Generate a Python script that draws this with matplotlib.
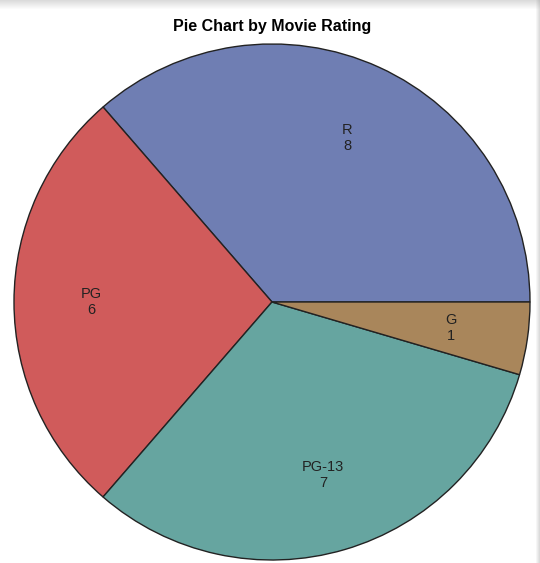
import matplotlib.pyplot as plt
from matplotlib.patches import Rectangle

# --- Data ---
ratings = ["R", "PG", "PG-13", "G"]
counts = [8, 6, 7, 1]
colors = ["#6F7EB3", "#D05B5B", "#66A5A0", "#A9865B"]

plt.rcParams["font.family"] = ["Liberation Sans", "DejaVu Sans"]

fig = plt.figure(figsize=(5.4, 5.63), dpi=100)

# --- soft shadow at top / right edge of the panel ---
for i in range(9):
    a = 0.35 * (1 - i / 9)
    fig.patches.append(Rectangle((0, 1 - (i + 1) / 563), 1, 1 / 563,
                                 transform=fig.transFigure, color="#9a9a9a",
                                 alpha=a, lw=0))
for i in range(4):
    a = 0.35 * (1 - i / 4)
    fig.patches.append(Rectangle((1 - (i + 1) / 540, 0), 1 / 540, 1,
                                 transform=fig.transFigure, color="#9a9a9a",
                                 alpha=a, lw=0))

fig.text(272 / 540, 1 - 27 / 563, "Pie Chart by Movie Rating",
         ha="center", va="center", fontsize=11.5, fontweight="bold")

ax = fig.add_axes([14 / 540, 3 / 563, 516 / 540, 516 / 563])
labels = [f"{r}\n{c}" for r, c in zip(ratings, counts)]
wedges, texts = ax.pie(counts, colors=colors, startangle=0, counterclock=True,
                       labels=labels, labeldistance=0.7,
                       wedgeprops=dict(edgecolor="#222222", linewidth=1.0),
                       textprops=dict(fontsize=10.5, color="#222222",
                                      ha="center", va="center",
                                      multialignment="center"))
ax.set_xlim(-1.0, 1.0)
ax.set_ylim(-1.0, 1.0)
ax.set_aspect("equal")
ax.axis("off")

fig.savefig("out.png", dpi=100)
